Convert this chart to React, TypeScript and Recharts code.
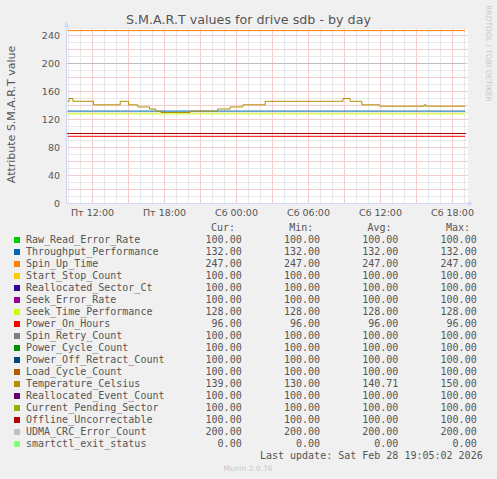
import React from "react";
import { LineChart, Line, XAxis, YAxis, ReferenceLine } from "recharts";

// ---- data ----
const seriesNames = [
  "Raw_Read_Error_Rate",
  "Throughput_Performance",
  "Spin_Up_Time",
  "Start_Stop_Count",
  "Reallocated_Sector_Ct",
  "Seek_Error_Rate",
  "Seek_Time_Performance",
  "Power_On_Hours",
  "Spin_Retry_Count",
  "Power_Cycle_Count",
  "Power_Off_Retract_Count",
  "Load_Cycle_Count",
  "Temperature_Celsius",
  "Reallocated_Event_Count",
  "Current_Pending_Sector",
  "Offline_Uncorrectable",
  "UDMA_CRC_Error_Count",
  "smartctl_exit_status",
];
const seriesColors = [
  "#00CC00", "#0066B3", "#FF8000", "#FFCC00", "#330099", "#990099",
  "#CCFF00", "#FF0000", "#808080", "#008F00", "#00487D", "#B35A00",
  "#B38F00", "#6B006B", "#8FB300", "#B30000", "#BEBEBE", "#80FF80",
];
// constant levels (Temperature_Celsius varies, see below)
const seriesLevels = [100, 132, 247, 100, 100, 100, 128, 96, 100, 100, 100, 100, null, 100, 100, 100, 200, 0];

// hours since Fri 00:00
const sampleHours = [9.92, 10.06, 10.37, 12.08, 14.31, 15.0, 15.78, 16.75, 17.28, 17.7, 20.14, 22.42, 23.47, 24.53, 26.39, 32.87, 33.47, 34.45, 35.92, 39.64, 39.78, 43.06];
const temperature = [146, 150, 146, 141, 146, 141, 138, 135, 132, 130, 132, 135, 138, 141, 146, 150, 146, 141, 139, 141, 139, 139];

const curValues = ["100.00", "132.00", "247.00", "100.00", "100.00", "100.00", "128.00", "96.00", "100.00", "100.00", "100.00", "100.00", "139.00", "100.00", "100.00", "100.00", "200.00", "0.00"];
const minValues = ["100.00", "132.00", "247.00", "100.00", "100.00", "100.00", "128.00", "96.00", "100.00", "100.00", "100.00", "100.00", "130.00", "100.00", "100.00", "100.00", "200.00", "0.00"];
const avgValues = ["100.00", "132.00", "247.00", "100.00", "100.00", "100.00", "128.00", "96.00", "100.00", "100.00", "100.00", "100.00", "140.71", "100.00", "100.00", "100.00", "200.00", "0.00"];
const maxValues = ["100.00", "132.00", "247.00", "100.00", "100.00", "100.00", "128.00", "96.00", "100.00", "100.00", "100.00", "100.00", "150.00", "100.00", "100.00", "100.00", "200.00", "0.00"];

const xTickHours = [12, 18, 24, 30, 36, 42];
const xTickLabels = ["Пт 12:00", "Пт 18:00", "Сб 00:00", "Сб 06:00", "Сб 12:00", "Сб 18:00"];
const yTicks = [0, 20, 40, 60, 80, 100, 120, 140, 160, 180, 200, 220, 240];
const yMajor = [20, 40, 60, 80, 100, 120, 140, 160, 180, 200, 220, 240];
const yMinor = [10, 30, 50, 70, 90, 110, 130, 150, 170, 190, 210, 230, 250];
const xMajor = [12, 15, 18, 21, 24, 27, 30, 33, 36, 39, 42];
const xMinor = [10, 11, 13, 14, 16, 17, 19, 20, 22, 23, 25, 26, 28, 29, 31, 32, 34, 35, 37, 38, 40, 41, 43];

const title = "S.M.A.R.T values for drive sdb - by day";
const yLabel = "Attribute S.M.A.R.T value";
const lastUpdate = "Last update: Sat Feb 28 19:05:02 2026";
const watermark = "RRDTOOL / TOBI OETIKER";
const version = "Munin 2.0.76";

const tableData = sampleHours.map((t, i) => {
  const row: Record<string, number> = { t };
  seriesNames.forEach((name, k) => {
    row[name] = seriesLevels[k] === null ? temperature[i] : (seriesLevels[k] as number);
  });
  return row;
});

const TEXT = "#555";
const AXIS = "#CFD6F8";
const MINOR = "#E8E8E8";
const MAJOR = "#F7CCCC";
const MONO = "'DejaVu Sans Mono', monospace";
const SANS = "'DejaVu Sans', sans-serif";

const PLOT_LEFT = 66.5;
const PLOT_TOP = 28.5;
const PLOT_BOTTOM = 203.5;
const PLOT_RIGHT = 468;

export default function App() {
  const rowBase = (i: number) => 242.5 + i * 12;
  const colRight = [241.7, 320, 398.3, 476.7];
  const colHeads = ["Cur:", "Min:", "Avg:", "Max:"];
  const cols = [curValues, minValues, avgValues, maxValues];
  const xStart = 12 - (92.5 - PLOT_LEFT) / 12;
  const xEnd = xStart + (PLOT_RIGHT - PLOT_LEFT) / 12;
  return (
    <div style={{ position: "absolute", left: 0, top: 0, width: 497, height: 479, background: "#F0F0F0" }}>
      <svg width={497} height={479} style={{ position: "absolute", left: 0, top: 0 }}>
        <rect x={PLOT_LEFT} y={PLOT_TOP} width={PLOT_RIGHT - PLOT_LEFT} height={PLOT_BOTTOM - PLOT_TOP} fill="#FFFFFF" />
      </svg>
      <div style={{ position: "absolute", left: 0, top: 0 }}>
        <LineChart
          width={497}
          height={230}
          data={tableData}
          margin={{ top: PLOT_TOP, right: 497 - PLOT_RIGHT, bottom: 0, left: 0 }}
        >
          {yMinor.map((v) => (
            <ReferenceLine key={"ym" + v} y={v} stroke={MINOR} strokeWidth={1} />
          ))}
          {xMinor.map((v) => (
            <ReferenceLine key={"xm" + v} x={v} stroke={MINOR} strokeWidth={1} />
          ))}
          {yMajor.map((v) => (
            <ReferenceLine key={"yM" + v} y={v} stroke={MAJOR} strokeWidth={1} />
          ))}
          {xMajor.map((v) => (
            <ReferenceLine key={"xM" + v} x={v} stroke={MAJOR} strokeWidth={1} />
          ))}
          <XAxis
            type="number"
            dataKey="t"
            domain={[xStart, xEnd]}
            ticks={xTickHours}
            tickFormatter={(v: number) => xTickLabels[xTickHours.indexOf(v)] ?? ""}
            height={230 - PLOT_BOTTOM}
            tickLine={false}
            tickSize={0}
            tickMargin={5.5}
            axisLine={{ stroke: AXIS }}
            tick={{ fill: TEXT, fontSize: 9.5, fontFamily: SANS }}
            allowDataOverflow
          />
          <YAxis
            type="number"
            domain={[0, 250]}
            ticks={yTicks}
            width={PLOT_LEFT}
            tickLine={false}
            tickSize={0}
            tickMargin={6.5}
            axisLine={{ stroke: AXIS }}
            tick={{ fill: TEXT, fontSize: 9.5, fontFamily: SANS }}
            allowDataOverflow
          />
          {seriesNames.map((name, k) => (
            <Line
              key={name}
              dataKey={name}
              stroke={seriesColors[k]}
              strokeWidth={1}
              type={seriesLevels[k] === null ? "stepAfter" : "linear"}
              strokeDasharray={name === "smartctl_exit_status" ? "5 5" : undefined}
              dot={false}
              activeDot={false}
              isAnimationActive={false}
            />
          ))}
        </LineChart>
      </div>
      <svg
        width={497}
        height={479}
        style={{ position: "absolute", left: 0, top: 0, pointerEvents: "none" }}
      >
        <text x={248.5} y={24} textAnchor="middle" fontFamily={SANS} fontSize={12.7} fill={TEXT}>
          {title}
        </text>
        <text
          x={0}
          y={0}
          transform="translate(15,114.5) rotate(-90)"
          textAnchor="middle"
          fontFamily={SANS}
          fontSize={11}
          fill={TEXT}
        >
          {yLabel}
        </text>
        <text
          x={0}
          y={0}
          transform="translate(485.5,53.5) rotate(90)"
          textAnchor="middle"
          fontFamily={SANS}
          fontSize={7.5}
          fill="#C8C8C8"
        >
          {watermark}
        </text>
        <polygon points="64,27 69,27 66.5,21.5" fill={AXIS} />
        <polygon points="468,201 468,206 473.5,203.5" fill={AXIS} />
        {colHeads.map((h, c) => (
          <text key={h} x={colRight[c] - 6.7} y={230.8} textAnchor="end" fontFamily={MONO} fontSize={10} fill={TEXT}>
            {h}
          </text>
        ))}
        {seriesNames.map((name, i) => (
          <g key={name}>
            <rect x={14} y={rowBase(i) - 5.5} width={6} height={6} fill={seriesColors[i]} />
            <text x={26} y={rowBase(i)} fontFamily={MONO} fontSize={10} fill={TEXT}>
              {name}
            </text>
            {cols.map((col, c) => (
              <text key={c} x={colRight[c]} y={rowBase(i)} textAnchor="end" fontFamily={MONO} fontSize={10} fill={TEXT}>
                {col[i]}
              </text>
            ))}
          </g>
        ))}
        <text x={482.7} y={459} textAnchor="end" fontFamily={MONO} fontSize={10} fill={TEXT}>
          {lastUpdate}
        </text>
        <text x={248} y={470.5} textAnchor="middle" fontFamily={SANS} fontSize={7.5} fill="#C8C8C8">
          {version}
        </text>
      </svg>
    </div>
  );
}
